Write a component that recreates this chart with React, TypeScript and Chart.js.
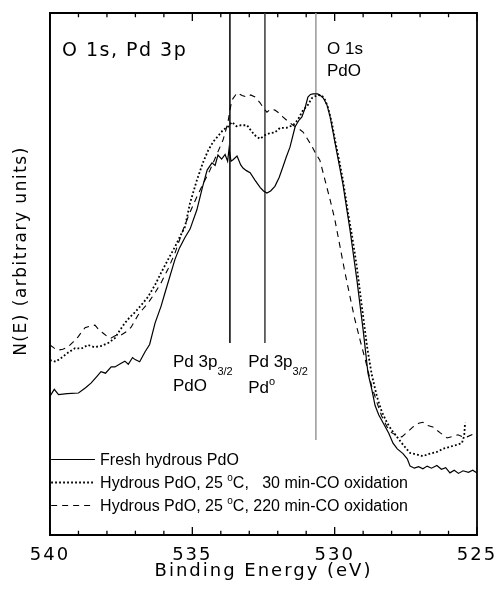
import React, { useEffect, useRef } from 'react';
import { Chart, registerables } from 'chart.js';

Chart.register(...registerables);

// Binding energy (eV) and N(E) (arbitrary units, 0-100)
const freshE = [540.0, 539.85, 539.7, 539.4, 539.0, 538.75, 538.56, 538.35, 538.21, 538.05, 537.85, 537.72, 537.5, 537.37, 537.25, 537.1, 537.01, 536.85, 536.66, 536.5, 536.31, 536.1, 535.96, 535.61, 535.45, 535.26, 535.08, 534.84, 534.65, 534.48, 534.31, 534.2, 534.1, 533.97, 533.85, 533.76, 533.71, 533.64, 533.57, 533.43, 533.3, 533.22, 533.1, 532.97, 532.8, 532.62, 532.5, 532.38, 532.25, 532.1, 531.95, 531.82, 531.7, 531.57, 531.39, 531.25, 531.15, 531.04, 530.94, 530.85, 530.76, 530.6, 530.52, 530.4, 530.27, 530.16, 530.05, 529.92, 529.71, 529.46, 529.22, 529.0, 528.83, 528.7, 528.58, 528.45, 528.3, 528.1, 527.95, 527.8, 527.6, 527.45, 527.35, 527.2, 527.05, 526.9, 526.75, 526.6, 526.41, 526.25, 526.1, 525.95, 525.8, 525.65, 525.49, 525.3, 525.15, 525.0];
const freshN = [26.6, 27.9, 26.9, 27.1, 27.2, 28.2, 29.1, 30.4, 31.3, 31.0, 32.2, 32.2, 32.9, 33.3, 32.7, 34.0, 33.6, 33.2, 35.1, 36.5, 40.6, 43.8, 46.4, 52.8, 55.0, 57.0, 58.6, 62.3, 66.5, 69.9, 71.3, 70.8, 72.8, 72.0, 72.9, 71.6, 74.0, 71.6, 71.9, 72.6, 70.9, 70.3, 69.8, 69.4, 68.0, 66.6, 65.9, 65.5, 65.9, 66.8, 68.5, 70.5, 72.4, 74.3, 78.2, 79.5, 80.1, 81.8, 83.9, 84.4, 84.5, 84.5, 84.3, 83.7, 82.4, 80.1, 77.0, 73.2, 67.2, 58.4, 48.9, 39.3, 31.0, 28.0, 24.8, 23.0, 21.5, 19.5, 17.6, 16.5, 15.6, 14.6, 13.2, 12.8, 13.1, 12.7, 13.2, 12.8, 13.3, 12.6, 12.9, 11.9, 12.4, 11.8, 12.3, 12.0, 12.4, 11.9];

const co30E = [540.0, 539.8, 539.61, 539.35, 539.12, 538.9, 538.67, 538.45, 538.21, 537.95, 537.72, 537.55, 537.37, 537.2, 537.01, 536.8, 536.56, 536.3, 536.1, 535.85, 535.61, 535.45, 535.26, 535.08, 534.85, 534.63, 534.45, 534.27, 534.1, 533.92, 533.75, 533.61, 533.45, 533.3, 533.08, 532.9, 532.75, 532.62, 532.45, 532.27, 532.1, 531.92, 531.7, 531.46, 531.3, 531.11, 530.95, 530.8, 530.6, 530.45, 530.33, 530.23, 530.1, 529.99, 529.85, 529.71, 529.53, 529.38, 529.22, 529.05, 528.86, 528.7, 528.51, 528.35, 528.16, 528.0, 527.81, 527.6, 527.35, 527.1, 526.9, 526.65, 526.41, 526.2, 525.95, 525.75, 525.53, 525.45, 525.42];
const co30N = [33.5, 33.2, 33.9, 35.0, 35.8, 35.7, 36.4, 36.0, 36.2, 36.8, 37.7, 39.2, 40.6, 41.7, 42.7, 44.0, 45.6, 48.0, 50.2, 52.8, 55.2, 57.0, 59.0, 63.6, 67.8, 71.3, 73.6, 75.3, 76.4, 77.6, 78.2, 79.1, 78.3, 78.5, 78.5, 77.2, 76.3, 75.9, 76.6, 77.0, 77.1, 78.0, 78.0, 78.5, 79.5, 81.4, 82.3, 83.7, 84.3, 84.2, 83.3, 81.8, 79.0, 75.7, 72.0, 68.0, 61.7, 57.0, 51.3, 44.0, 36.0, 30.8, 26.4, 23.7, 21.5, 20.1, 18.8, 17.3, 15.7, 15.4, 15.1, 15.6, 15.9, 16.5, 16.9, 17.2, 17.6, 19.0, 21.5];

const co220E = [540.0, 539.85, 539.72, 539.55, 539.37, 539.2, 539.02, 538.9, 538.77, 538.6, 538.42, 538.28, 538.14, 537.98, 537.86, 537.7, 537.51, 537.3, 537.15, 536.91, 536.75, 536.56, 536.3, 536.1, 535.85, 535.61, 535.33, 535.1, 534.84, 534.6, 534.38, 534.15, 533.92, 533.75, 533.68, 533.61, 533.43, 533.25, 533.08, 532.95, 532.8, 532.62, 532.5, 532.38, 532.25, 532.1, 531.95, 531.82, 531.65, 531.46, 531.3, 531.11, 530.95, 530.8, 530.66, 530.52, 530.34, 530.16, 530.0, 529.81, 529.65, 529.46, 529.3, 529.11, 528.86, 528.7, 528.51, 528.35, 528.16, 528.0, 527.8, 527.64, 527.45, 527.25, 527.05, 526.9, 526.75, 526.55, 526.3, 526.05, 525.85, 525.67, 525.5, 525.35, 525.15, 525.0];
const co220N = [36.4, 35.8, 35.4, 35.6, 36.0, 36.9, 37.9, 38.8, 39.7, 40.0, 40.2, 39.3, 38.7, 38.0, 37.7, 38.2, 38.3, 39.0, 39.8, 42.1, 43.2, 44.4, 46.5, 48.3, 51.0, 54.0, 58.4, 61.6, 64.8, 67.5, 69.9, 72.8, 75.7, 79.0, 81.4, 83.3, 84.7, 84.2, 83.9, 84.3, 83.9, 82.8, 81.8, 81.0, 81.6, 81.4, 80.8, 80.1, 79.3, 78.5, 78.0, 77.2, 75.8, 74.5, 73.0, 71.8, 68.0, 64.2, 60.6, 55.2, 50.6, 45.6, 41.5, 37.4, 32.2, 28.5, 25.3, 22.8, 20.7, 19.6, 19.0, 18.8, 19.7, 20.7, 21.4, 21.6, 21.0, 20.7, 19.6, 18.6, 18.9, 19.2, 18.8, 18.8, 19.3, 19.5];

// Reference lines (peak positions)
const markerE = [533.68, 532.45, 530.66];
const markerBottom = [36.8, 36.8, 18.2];
const markerColor = ['#000000', '#3a3a3a', '#9a9a9a'];

const xTickValues = [540, 535, 530, 525];
const xMinorTickValues = [539, 538, 537, 536, 534, 533, 532, 531, 529, 528, 527, 526];
const seriesLabels = ['Fresh hydrous PdO', 'Hydrous PdO, 25 °C,   30 min-CO oxidation', 'Hydrous PdO, 25 °C, 220 min-CO oxidation'];

type Seg = [string, string];

function drawRich(ctx: CanvasRenderingContext2D, x: number, y: number, segs: Seg[], size: number, family: string) {
  let cx = x;
  for (const [t, kind] of segs) {
    let s = size;
    let dy = 0;
    if (kind === 'sub') { s = Math.round(size * 0.65); dy = size * 0.45; }
    if (kind === 'sup') { s = Math.round(size * 0.65); dy = -size * 0.45; }
    ctx.font = `${s}px ${family}`;
    ctx.fillText(t, cx, y + dy);
    cx += ctx.measureText(t).width;
  }
}

function legendSegs(label: string): Seg[] {
  const i = label.indexOf('°');
  if (i < 0) return [[label, '']];
  return [[label.slice(0, i), ''], ['o', 'sup'], [label.slice(i + 1), '']];
}

const ARIAL = "'Liberation Sans', Arial, sans-serif";
const DEJAVU = "'DejaVu Sans', sans-serif";

const spacingPlugin = {
  id: 'spacing',
  beforeDraw(chart: any) {
    (chart.ctx as any).letterSpacing = '2px';
  },
  afterDraw(chart: any) {
    (chart.ctx as any).letterSpacing = '0px';
  },
};

const textPlugin = {
  id: 'texts',
  afterDraw(chart: any) {
    const ctx: CanvasRenderingContext2D = chart.ctx;
    const { left } = chart.chartArea;
    const xs = chart.scales.x;
    const ys = chart.scales.y;
    ctx.save();
    ctx.fillStyle = '#000';
    ctx.textAlign = 'left';
    ctx.textBaseline = 'alphabetic';

    (ctx as any).letterSpacing = '1.5px';
    drawRich(ctx, xs.getPixelForValue(539.58), ys.getPixelForValue(91.8), [['O 1s, Pd 3p', '']], 19, DEJAVU);
    (ctx as any).letterSpacing = '0px';
    drawRich(ctx, xs.getPixelForValue(530.27), ys.getPixelForValue(92.1), [['O 1s', '']], 17, ARIAL);
    drawRich(ctx, xs.getPixelForValue(530.27), ys.getPixelForValue(87.9), [['PdO', '']], 17, ARIAL);
    drawRich(ctx, xs.getPixelForValue(535.68), ys.getPixelForValue(32.2), [['Pd 3p', ''], ['3/2', 'sub']], 17, ARIAL);
    drawRich(ctx, xs.getPixelForValue(535.68), ys.getPixelForValue(27.6), [['PdO', '']], 17, ARIAL);
    drawRich(ctx, xs.getPixelForValue(533.04), ys.getPixelForValue(32.2), [['Pd 3p', ''], ['3/2', 'sub']], 17, ARIAL);
    drawRich(ctx, xs.getPixelForValue(533.04), ys.getPixelForValue(27.2), [['Pd', ''], ['o', 'sup']], 17, ARIAL);

    const rows = [14.6, 10.2, 5.7];
    for (let i = 0; i < 3; i++) {
      const ds = chart.data.datasets[i];
      const py = Math.round(ys.getPixelForValue(rows[i])) + 0.5;
      ctx.strokeStyle = '#000';
      ctx.lineWidth = ds.borderWidth;
      ctx.setLineDash(ds.borderDash || []);
      ctx.beginPath();
      ctx.moveTo(xs.getPixelForValue(539.96), py);
      ctx.lineTo(xs.getPixelForValue(538.42), py);
      ctx.stroke();
      ctx.setLineDash([]);
      drawRich(ctx, xs.getPixelForValue(538.24), py + 5.5, legendSegs(seriesLabels[i]), 16, ARIAL);
    }

    (ctx as any).letterSpacing = '1.5px';
    ctx.translate(left - 28, ys.getPixelForValue(54.4));
    ctx.rotate(-Math.PI / 2);
    ctx.textAlign = 'center';
    ctx.textBaseline = 'middle';
    ctx.font = `17px ${DEJAVU}`;
    ctx.fillText('N(E) (arbitrary units)', 0, 0);
    ctx.restore();
  },
};

function pts(xs: number[], ys: number[]) {
  return xs.map((x, i) => ({ x, y: ys[i] }));
}

// tick marks as short segments (inward, at bottom and top of the frame)
function tickSegs(values: number[], len: number) {
  const out: any[] = [];
  for (const v of values) {
    out.push({ x: v, y: 0 }, { x: v, y: len }, { x: v, y: null });
    out.push({ x: v, y: 100 }, { x: v, y: 100 - len }, { x: v, y: null });
  }
  return out;
}

export default function App() {
  const ref = useRef<HTMLCanvasElement | null>(null);
  useEffect(() => {
    if (!ref.current) return;
    const markerSets = markerE.map((e, i) => ({
      label: 'marker' + i,
      data: [{ x: e, y: 100 }, { x: e, y: markerBottom[i] }],
      borderColor: markerColor[i],
      borderWidth: 1.5,
      pointRadius: 0,
      fill: false,
    }));
    const frameSets = [
      {
        label: 'frame',
        data: [{ x: 540, y: 0 }, { x: 525, y: 0 }, { x: 525, y: 100 }, { x: 540, y: 100 }, { x: 540, y: 0 }],
        borderColor: '#000',
        borderWidth: 1.8,
        pointRadius: 0,
        fill: false,
        clip: false,
      },
      { label: 'majorTicks', data: tickSegs(xTickValues, 1.55), borderColor: '#000', borderWidth: 1.3, pointRadius: 0, fill: false, spanGaps: false, clip: false },
      { label: 'minorTicks', data: tickSegs(xMinorTickValues, 0.8), borderColor: '#000', borderWidth: 1.3, pointRadius: 0, fill: false, spanGaps: false, clip: false },
    ];
    const chart = new Chart(ref.current, {
      type: 'line',
      data: {
        datasets: [
          { label: seriesLabels[0], data: pts(freshE, freshN), borderColor: '#000', borderWidth: 1.2, borderDash: [], pointRadius: 0, fill: false, tension: 0 },
          { label: seriesLabels[1], data: pts(co30E, co30N), borderColor: '#000', borderWidth: 1.8, borderDash: [1.8, 2.2], pointRadius: 0, fill: false, tension: 0 },
          { label: seriesLabels[2], data: pts(co220E, co220N), borderColor: '#000', borderWidth: 1.1, borderDash: [6, 5], pointRadius: 0, fill: false, tension: 0 },
          ...markerSets,
          ...frameSets,
        ] as any,
      },
      options: {
        animation: false,
        responsive: true,
        maintainAspectRatio: false,
        layout: { padding: { top: 13, right: 22, left: 0, bottom: 0 } },
        plugins: { legend: { display: false }, tooltip: { enabled: false } },
        scales: {
          x: {
            type: 'linear',
            min: 525,
            max: 540,
            reverse: true,
            position: 'bottom',
            grid: { display: false, drawTicks: false },
            border: { display: true, color: '#000', width: 1.6 },
            afterBuildTicks: (s: any) => { s.ticks = xTickValues.map((v) => ({ value: v })); },
            afterFit: (s: any) => { s.height = 63; s.paddingLeft = 0; s.paddingRight = 0; },
            ticks: {
              autoSkip: false,
              maxRotation: 0,
              padding: 10,
              color: '#000',
              font: { family: DEJAVU, size: 18 },
            },
            title: {
              display: true,
              text: 'Binding Energy (eV)',
              color: '#000',
              font: { family: DEJAVU, size: 18 },
              padding: { top: 0, bottom: 16 },
            },
          },
          y: {
            type: 'linear',
            min: 0,
            max: 100,
            position: 'left',
            grid: { display: false, drawTicks: false },
            border: { display: true, color: '#000', width: 1.6 },
            ticks: { display: false },
            afterFit: (s: any) => { s.width = 50; },
          },
        },
      } as any,
      plugins: [spacingPlugin, textPlugin],
    });
    return () => chart.destroy();
  }, []);
  return (
    <div style={{ position: 'absolute', left: 0, top: 0, width: '499px', height: '598px', background: '#fff' }}>
      <canvas ref={ref} />
    </div>
  );
}
